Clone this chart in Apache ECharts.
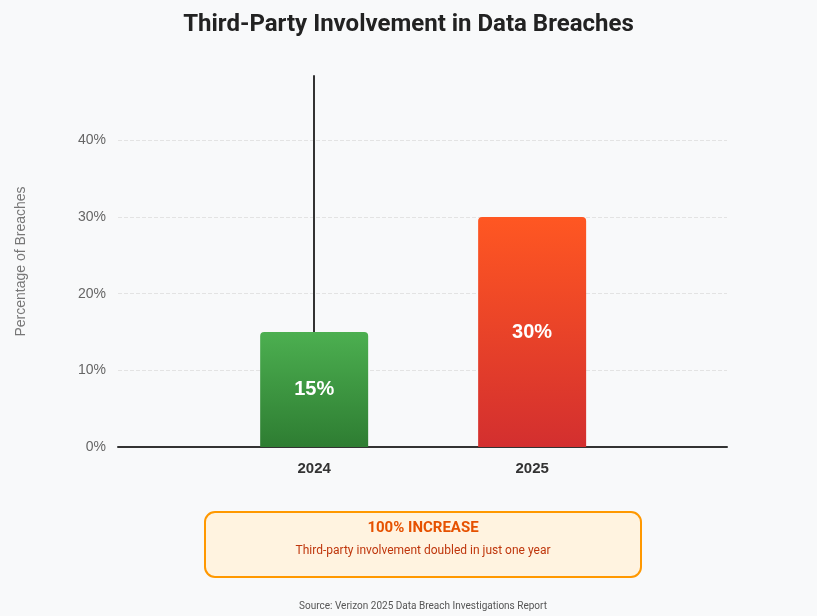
<!DOCTYPE html>
<html>
<head>
<meta charset="utf-8">
<script src="https://cdn.jsdelivr.net/npm/echarts@6/dist/echarts.min.js"></script>
<style>
html, body { margin: 0; padding: 0; background: #f8f9fa; }
#main { width: 817px; height: 616px; }
</style>
</head>
<body>
<div id="main"></div>
<script>
var categories = ['2024', '2025'];
var values = [15, 30];
var yTicks = [0, 10, 20, 30, 40];

var gradients = [
    ['#4caf50', '#2e7d32'],
    ['#ff5722', '#d32f2f']
];

var chartDom = document.getElementById('main');
var myChart = echarts.init(chartDom);
var option;

var barData = values.map(function (v, i) {
    return {
        value: [i, v],
        itemStyle: {
            color: new echarts.graphic.LinearGradient(0, 0, 0, 1, [
                { offset: 0, color: gradients[i][0] },
                { offset: 1, color: gradients[i][1] }
            ]),
            borderRadius: [4, 4, 0, 0]
        }
    };
});

option = {
    backgroundColor: '#f8f9fa',
    title: {
        text: 'Third-Party Involvement in Data Breaches',
        left: 'center',
        top: 8,
        textStyle: { fontSize: 24, fontWeight: 'bold', color: '#222', fontFamily: 'Roboto, Arial, sans-serif' }
    },
    grid: { left: 118, right: 90, top: 76, bottom: 169 },
    xAxis: {
        type: 'value',
        min: -0.9,
        max: 1.894,
        axisLine: { show: true, lineStyle: { color: '#333', width: 2 } },
        axisTick: { show: false },
        splitLine: { show: false },
        axisLabel: {
            customValues: [0, 1],
            formatter: function (v) { return categories[Math.round(v)]; },
            fontSize: 15, fontWeight: 'bold', color: '#333', margin: 14
        }
    },
    yAxis: {
        type: 'value',
        min: 0,
        max: 48.4,
        interval: 10,
        name: 'Percentage of Breaches',
        nameLocation: 'middle',
        nameGap: 90,
        nameTextStyle: { color: '#777', fontSize: 14 },
        axisLine: { show: true, lineStyle: { color: '#333', width: 2 } },
        axisTick: { show: false },
        axisLabel: {
            showMaxLabel: false,
            formatter: function (v) { return yTicks.indexOf(v) >= 0 ? v + '%' : ''; },
            color: '#666', fontSize: 14, margin: 12
        },
        splitLine: { showMaxLine: false, lineStyle: { color: '#e3e3e3', type: 'dashed' } }
    },
    series: [
        {
            type: 'bar',
            barWidth: 108,
            data: barData,
            label: {
                show: true,
                position: 'inside',
                formatter: function (p) { return p.value[1] + '%'; },
                color: '#fff',
                fontSize: 20,
                fontWeight: 'bold'
            }
        }
    ],
    graphic: [
        {
            type: 'rect',
            shape: { x: 205, y: 512, width: 436, height: 65, r: 10 },
            style: { fill: '#fff3e0', stroke: '#ff9800', lineWidth: 2 }
        },
        {
            type: 'text',
            x: 423, y: 528,
            style: { text: '100% INCREASE', fill: '#e65100', font: 'bold 15px Roboto, Arial, sans-serif', textAlign: 'center', textVerticalAlign: 'middle' }
        },
        {
            type: 'text',
            x: 423, y: 551,
            style: { text: 'Third-party involvement doubled in just one year', fill: '#bf360c', font: '12px Roboto, Arial, sans-serif', textAlign: 'center', textVerticalAlign: 'middle' }
        },
        {
            type: 'text',
            x: 423, y: 606,
            style: { text: 'Source: Verizon 2025 Data Breach Investigations Report', fill: '#555', font: '10px Roboto, Arial, sans-serif', textAlign: 'center', textVerticalAlign: 'middle' }
        }
    ]
};

option && myChart.setOption(option);
</script>
</body>
</html>
